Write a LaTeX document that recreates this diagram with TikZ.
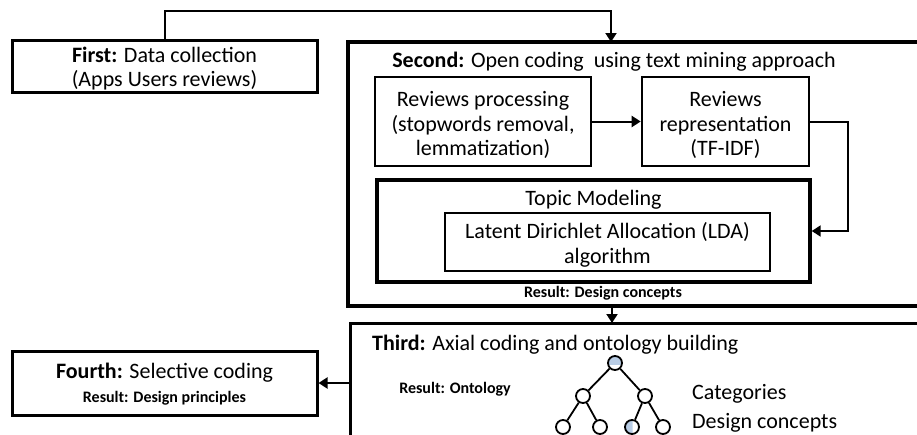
\documentclass[tikz,border=0pt]{standalone}
\usepackage{fontspec}
\setmainfont{Carlito}
\usetikzlibrary{arrows.meta}
\definecolor{lightblue}{RGB}{185,205,229}
\begin{document}
\begin{tikzpicture}[x=1pt,y=-1pt,
  box/.style={draw, line width=2.6pt, align=center, inner sep=0pt,
    font=\fontsize{22}{24.5}\selectfont},
  heavy/.style={line width=3.4pt},
  label/.style={inner sep=0pt, font=\fontsize{22}{25}\selectfont},
  result/.style={inner sep=0pt, font=\fontsize{16}{18}\selectfont\bfseries},
  arr/.style={line width=2pt, -{Triangle[width=11pt,length=9pt]}},
  leaf/.style={circle, draw, line width=1.8pt, minimum size=14pt, inner sep=0pt},
  branch/.style={line width=1.8pt}
]
\useasboundingbox (0,0) rectangle (917,434);
\clip (0,0) rectangle (917,434);

% step one
\node[draw, line width=3pt, minimum width=305pt, minimum height=52pt] (first) at (164.5,66) {};
\node[box, draw=none] (firsttext) at (164.5,68.5)
  {\textbf{First:} Data collection\\(Apps Users reviews)};

% step two: open coding
\node[draw, heavy, minimum width=592pt, minimum height=264pt] (second) at (644,174) {};
\node[label] (secondtitle) at (614,62) {\textbf{Second:} Open coding\ \ using text mining approach};
\node[box, minimum width=216pt, minimum height=89pt] (proc) at (483,121.5) {};
\node[box, draw=none] (proctext) at (483,125)
  {Reviews processing\\(stopwords removal,\\lemmatization)};
\node[box, minimum width=167pt, minimum height=89pt] (rep) at (725.5,121.5) {};
\node[box, draw=none] (reptext) at (725.5,125)
  {Reviews\\representation\\(TF-IDF)};
\node[draw, heavy, minimum width=433pt, minimum height=102pt] (topic) at (593.5,231) {};
\node[label] (topictitle) at (593.5,200) {Topic Modeling};
\node[box, line width=2pt, minimum width=325pt, minimum height=58pt] (lda) at (607.5,242) {};
\node[box, draw=none] (ldatext) at (607.5,245)
  {Latent Dirichlet Allocation (LDA)\\algorithm};
\node[result] (res2) at (603,293) {Result: Design concepts};

% step three: axial coding
\node[draw, line width=3pt, minimum width=590pt, minimum height=137pt] (third) at (645,391.5) {};
\node[label, anchor=west] (thirdtitle) at (372,345) {\textbf{Third:} Axial coding and ontology building};
\node[result] (res3) at (455,389) {Result: Ontology};

% ontology tree
\begin{scope}
  \clip (600,343) rectangle (630,364);
  \fill[lightblue] (615,363) circle (7pt);
\end{scope}
\begin{scope}
  \clip (620,415) rectangle (632.5,440);
  \fill[lightblue] (632,427) circle (7pt);
\end{scope}
\node[leaf] (root) at (615,363) {};
\node[leaf] (catA) at (583,396) {};
\node[leaf] (catB) at (645,396) {};
\node[leaf] (dc1) at (563,427) {};
\node[leaf] (dc2) at (600,427) {};
\node[leaf] (dc3) at (632,427) {};
\node[leaf] (dc4) at (663,427) {};
\draw[branch] (root) -- (catA);
\draw[branch] (root) -- (catB);
\draw[branch] (catA) -- (dc1);
\draw[branch] (catA) -- (dc2);
\draw[branch] (catB) -- (dc3);
\draw[branch] (catB) -- (dc4);
\node[label, anchor=west] (cats) at (692,394) {Categories};
\node[label, anchor=west] (dcs) at (692,423) {Design concepts};

% step four
\node[draw, line width=3pt, minimum width=305pt, minimum height=64pt] (fourth) at (164.5,383) {};
\node[box, draw=none] (fourthtext) at (164.5,384)
  {\textbf{Fourth:} Selective coding\\[0pt]{\fontsize{16}{18}\selectfont\bfseries Result: Design principles}};

% connectors
\coordinate (s2top) at (611,42);
\coordinate (s2bot) at (612,306);
\coordinate (s3top) at (612,323);
\draw[arr] (first.north) -- ++(0,-28) -| (s2top);
\draw[arr] (proc.east) -- (rep.west);
\draw[arr] (rep.east) -- ++(38,0) |- (topic.east);
\draw[arr] (s2bot) -- (s3top);
\draw[arr] (third.west |- fourth.east) -- (fourth.east);
\end{tikzpicture}
\end{document}
